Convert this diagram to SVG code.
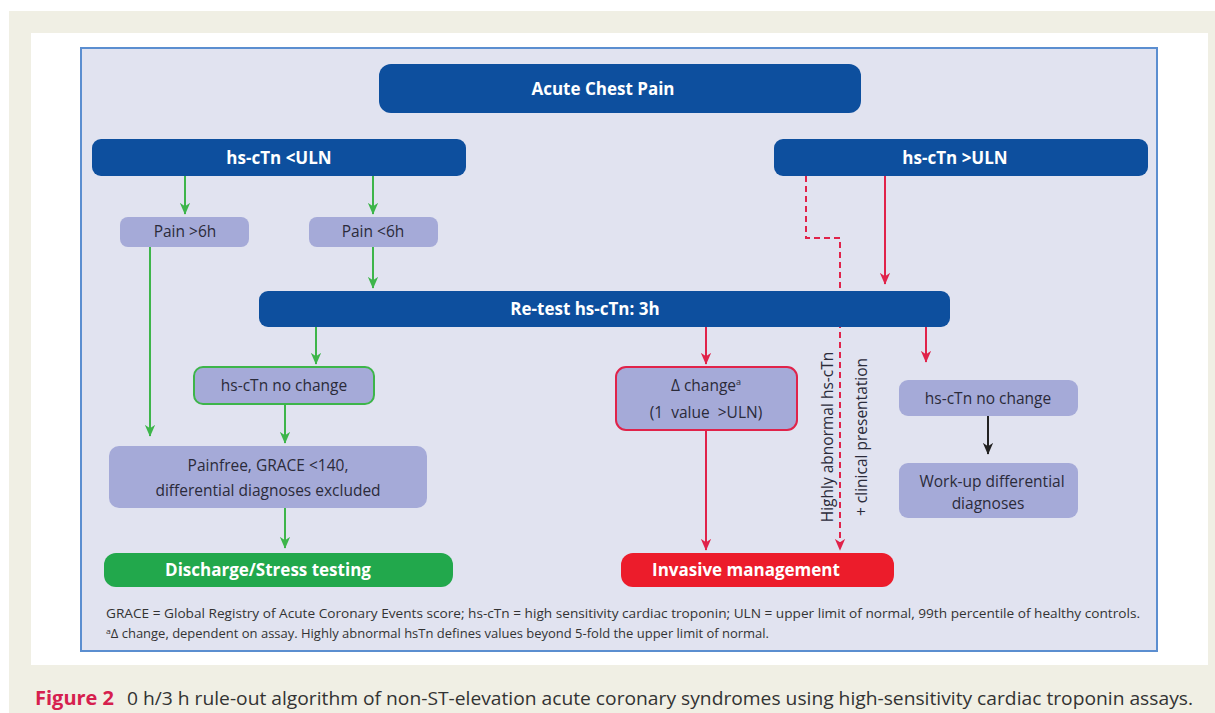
<svg xmlns="http://www.w3.org/2000/svg" width="1215" height="713" viewBox="0 0 1215 713">
<defs>
<marker id="arrG" markerUnits="userSpaceOnUse" markerWidth="12" markerHeight="14" refX="13" refY="6" orient="auto" viewBox="0 0 14 12"><path d="M0,0 L14,6 L0,12 L4,6 Z" fill="#3db54a"/></marker>
<marker id="arrR" markerUnits="userSpaceOnUse" markerWidth="12" markerHeight="14" refX="13" refY="6" orient="auto" viewBox="0 0 14 12"><path d="M0,0 L14,6 L0,12 L4,6 Z" fill="#e0234a"/></marker>
<marker id="arrK" markerUnits="userSpaceOnUse" markerWidth="12" markerHeight="14" refX="13" refY="6" orient="auto" viewBox="0 0 14 12"><path d="M0,0 L14,6 L0,12 L4,6 Z" fill="#222"/></marker>
</defs>
<style>
.blue{fill:#0d4f9e}
.lav{fill:#a5aad8}
.wt{font-family:"Open Sans","Liberation Sans",sans-serif;font-weight:bold;fill:#fff;font-size:17px;text-anchor:middle}
.dt{font-family:"Open Sans","Liberation Sans",sans-serif;fill:#2b2b3a;font-size:15.5px;text-anchor:middle}
.g{stroke:#3db54a;stroke-width:2;fill:none;marker-end:url(#arrG)}
.r{stroke:#e0234a;stroke-width:2;fill:none;marker-end:url(#arrR)}
.k{stroke:#222;stroke-width:2;fill:none;marker-end:url(#arrK)}
.fn{font-family:"Open Sans","Liberation Sans",sans-serif;fill:#333;font-size:12px}
</style>
<rect x="0" y="0" width="1215" height="713" fill="#ffffff"/>
<rect x="9" y="11" width="1206" height="702" fill="#f0efe4"/>
<rect x="31" y="33" width="1177" height="632" fill="#ffffff"/>
<rect x="81" y="48" width="1076" height="603" fill="#e1e3f0" stroke="#5b8ed0" stroke-width="2"/>

<g id="connectors">
<line class="g" x1="185" y1="176" x2="185" y2="214"/>
<line class="g" x1="373" y1="176" x2="373" y2="214"/>
<line class="g" x1="373" y1="247" x2="373" y2="288"/>
<line class="g" x1="150" y1="247" x2="150" y2="436"/>
<line class="g" x1="316" y1="327" x2="316" y2="364"/>
<line class="g" x1="285" y1="404" x2="285" y2="443"/>
<line class="g" x1="285" y1="508" x2="285" y2="548"/>
<line class="r" x1="706" y1="327" x2="706" y2="364"/>
<line class="r" x1="706" y1="430" x2="706" y2="550"/>
<line class="r" x1="926" y1="327" x2="926" y2="362"/>
<line class="r" x1="885" y1="176" x2="885" y2="284"/>
<path class="r" d="M806,176 L806,238 L840,238 L840,550" stroke-dasharray="6,4"/>
<line class="k" x1="988" y1="416" x2="988" y2="454"/>
</g>

<g id="acute"><rect class="blue" x="379" y="64" width="482" height="49" rx="12"/><text class="wt" x="603" y="95">Acute Chest Pain</text></g>
<g id="low"><rect class="blue" x="92" y="139" width="374" height="37" rx="9"/><text class="wt" x="279" y="164">hs-cTn &lt;ULN</text></g>
<g id="high"><rect class="blue" x="774" y="139" width="374" height="37" rx="9"/><text class="wt" x="955" y="164">hs-cTn &gt;ULN</text></g>
<g id="p6a"><rect class="lav" x="120" y="217" width="129" height="30" rx="8"/><text class="dt" x="185" y="237">Pain &gt;6h</text></g>
<g id="p6b"><rect class="lav" x="309" y="217" width="129" height="30" rx="8"/><text class="dt" x="373" y="237">Pain &lt;6h</text></g>
<g id="retest"><rect class="blue" x="259" y="291" width="691" height="36" rx="9"/><text class="wt" x="585" y="315">Re-test hs-cTn: 3h</text></g>
<g id="nochg1"><rect class="lav" x="194" y="367" width="180" height="37" rx="9" stroke="#3db54a" stroke-width="2"/><text class="dt" x="284" y="391">hs-cTn no change</text></g>
<g id="delta"><rect class="lav" x="616" y="367" width="181" height="63" rx="10" stroke="#e0234a" stroke-width="2"/><text class="dt" x="706" y="391">Δ change<tspan font-size="9" dy="-6">a</tspan></text><text class="dt" x="706" y="418" xml:space="preserve">(1  value  &gt;ULN)</text></g>
<g id="nochg2"><rect class="lav" x="899" y="380" width="179" height="36" rx="9"/><text class="dt" x="988" y="404">hs-cTn no change</text></g>
<g id="workup"><rect class="lav" x="899" y="463" width="179" height="55" rx="9"/><text class="dt" x="992" y="487">Work-up differential</text><text class="dt" x="988" y="509">diagnoses</text></g>
<g id="painfree"><rect class="lav" x="109" y="446" width="318" height="62" rx="10"/><text class="dt" x="268" y="471">Painfree, GRACE &lt;140,</text><text class="dt" x="268" y="496">differential diagnoses excluded</text></g>
<g id="discharge"><rect x="104" y="553" width="349" height="34" rx="12" fill="#22a84c"/><text class="wt" x="268" y="576">Discharge/Stress testing</text></g>
<g id="invasive"><rect x="621" y="553" width="273" height="34" rx="12" fill="#ec1c2b"/><text class="wt" x="746" y="576">Invasive management</text></g>

<g id="dashlabel">
<text class="dt" transform="translate(833,437) rotate(-90)">Highly abnormal hs-cTn</text>
<text class="dt" transform="translate(867,437) rotate(-90)">+ clinical presentation</text>
</g>

<text class="fn" x="106" y="618" textLength="1034" lengthAdjust="spacingAndGlyphs">GRACE = Global Registry of Acute Coronary Events score; hs-cTn = high sensitivity cardiac troponin; ULN = upper limit of normal, 99th percentile of healthy controls.</text>
<text class="fn" x="106" y="638" textLength="663" lengthAdjust="spacingAndGlyphs"><tspan font-size="8" dy="-4">a</tspan><tspan dy="4">Δ change, dependent on assay. Highly abnormal hsTn defines values beyond 5-fold the upper limit of normal.</tspan></text>

<text x="35" y="705" font-family="Open Sans,Liberation Sans,sans-serif" font-weight="bold" font-size="20" fill="#d6204e">Figure 2</text>
<text x="127" y="705" font-family="Open Sans,Liberation Sans,sans-serif" font-size="18" fill="#333" textLength="1066" lengthAdjust="spacingAndGlyphs">0 h/3 h rule-out algorithm of non-ST-elevation acute coronary syndromes using high-sensitivity cardiac troponin assays.</text>
</svg>
